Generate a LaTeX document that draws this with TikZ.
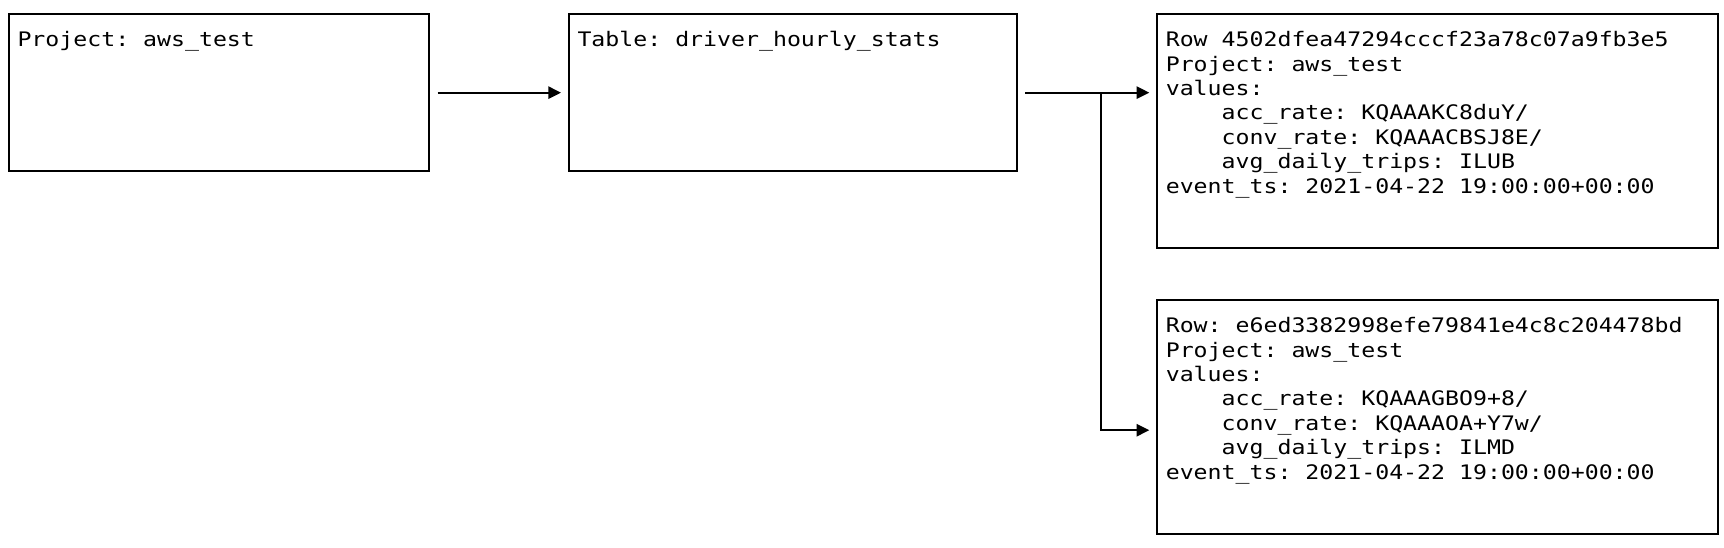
\documentclass[tikz,border=0pt]{standalone}
\usepackage{fontspec}
\usetikzlibrary{arrows.meta}
\newfontfamily\monof[FakeStretch=1.16]{DejaVu Sans Mono}
\newcommand{\fl}{\rule{0pt}{16pt}}
\newcommand{\ind}{\phantom{xxxx}}
\begin{document}
\begin{tikzpicture}[x=1pt,y=-1pt,
  boxnode/.style={draw=black, line width=1.8pt, inner sep=0pt, anchor=north west, rectangle},
  txt/.style={inner sep=0pt, anchor=north west, align=left,
    font={\monof\fontsize{20}{24.4}\selectfont\frenchspacing}},
  arr/.style={draw=black, line width=1.8pt, -{Triangle[length=12.7pt,width=12.3pt]}}]
\useasboundingbox (0,0) rectangle (1724,548);
\node[boxnode, minimum width=420pt, minimum height=156.5pt] (b1) at (8.3,13.5) {};
\node[boxnode, minimum width=447.4pt, minimum height=156.5pt] (b2) at (568.3,13.5) {};
\node[boxnode, minimum width=560.7pt, minimum height=234pt] (b3) at (1156,13.3) {};
\node[boxnode, minimum width=560.7pt, minimum height=234pt] (b4) at (1156,299.3) {};
\node[txt] (t1) at ([xshift=9pt,yshift=-16.4pt]b1.north west) {\fl Project: aws\_test};
\node[txt] (t2) at ([xshift=9pt,yshift=-16.4pt]b2.north west) {\fl Table: driver\_hourly\_stats};
\node[txt] (t3) at ([xshift=9.6pt,yshift=-17.2pt]b3.north west) {\fl Row 4502dfea47294cccf23a78c07a9fb3e5\\
Project: aws\_test\\
values:\\
\ind acc\_rate: KQAAAKC8duY/\\
\ind conv\_rate: KQAAACBSJ8E/\\
\ind avg\_daily\_trips: ILUB\\
event\_ts: 2021-04-22 19:00:00+00:00};
\node[txt] (t4) at ([xshift=9.6pt,yshift=-17.2pt]b4.north west) {\fl Row: e6ed3382998efe79841e4c8c204478bd\\
Project: aws\_test\\
values:\\
\ind acc\_rate: KQAAAGBO9+8/\\
\ind conv\_rate: KQAAAOA+Y7w/\\
\ind avg\_daily\_trips: ILMD\\
event\_ts: 2021-04-22 19:00:00+00:00};
\draw[arr, shorten <=7.4pt, shorten >=7.3pt] (b1.east) -- (b2.west);
\draw[arr, shorten <=7.6pt, shorten >=6.7pt] (b2.east) -- (b2.east -| b3.west);
\coordinate (j) at (1101,0 |- b2.east);
\coordinate (k) at ([yshift=-13pt]b4.west);
\draw[arr, shorten >=6.7pt] (j) |- (k);
\end{tikzpicture}
\end{document}
